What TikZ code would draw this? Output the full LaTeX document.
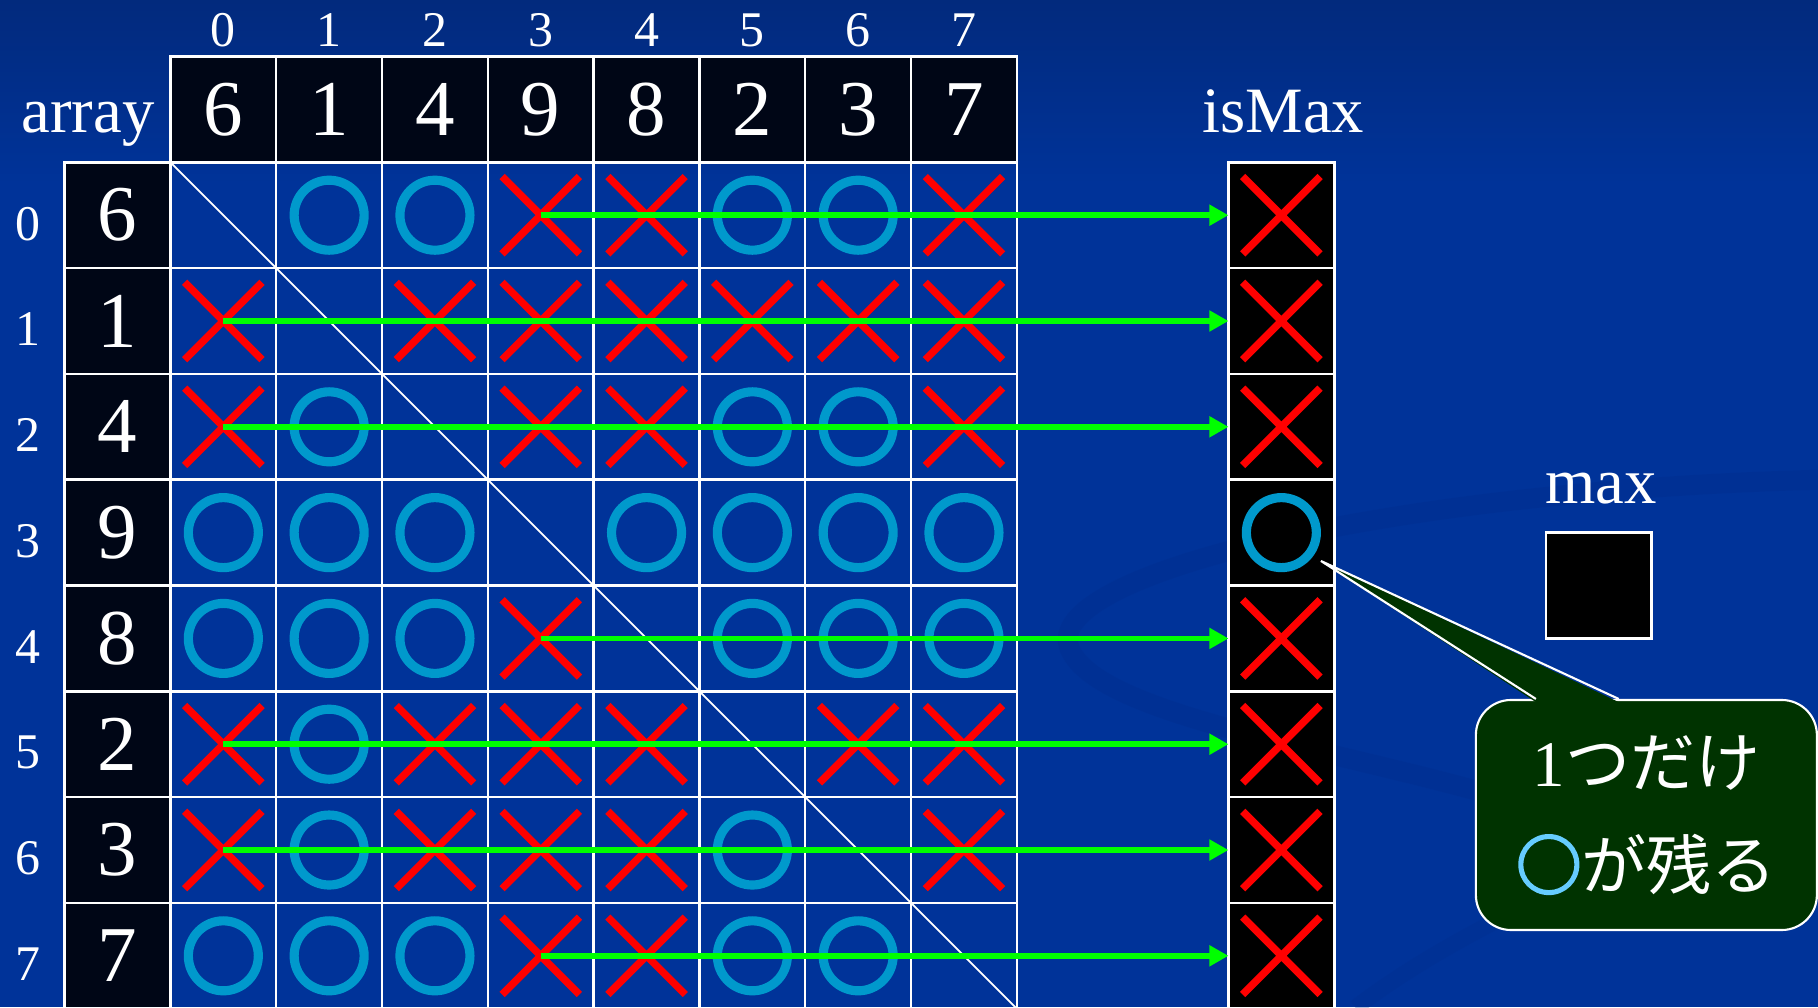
\documentclass[tikz,border=0pt]{standalone}
\usepackage{fontspec}
\setmainfont{Liberation Serif}
\newfontfamily\jpfont{Noto Sans CJK JP}
\newfontfamily\jpbold[FakeBold=4]{Noto Sans CJK JP}
\usepackage{tikz}
\usetikzlibrary{arrows.meta, positioning, calc, shapes.misc}
\definecolor{slideblue}{RGB}{0,51,153}
\definecolor{slidetop}{RGB}{2,42,125}
\definecolor{swoosh}{RGB}{0,44,138}
\definecolor{cellblack}{RGB}{0,6,22}
\definecolor{markred}{RGB}{255,0,0}
\definecolor{markblue}{RGB}{0,153,204}
\definecolor{arrowgreen}{RGB}{0,255,0}
\definecolor{notegreen}{RGB}{0,51,0}
\definecolor{lightblue}{RGB}{102,204,255}

\begin{document}
\begin{tikzpicture}[x=1.058cm, y=1.058cm,
  cell/.style={draw=white, line width=0.7pt, minimum size=1.058cm, inner sep=0pt, outer sep=0pt},
  num/.style={text=white, font=\fontsize{22.5}{27}\selectfont},
  idx/.style={text=white, font=\fontsize{14.2}{17}\selectfont},
  lbl/.style={text=white, font=\fontsize{18.4}{22}\selectfont, anchor=base},
  xmark/.style={cross out, draw=markred, line width=2.1pt, minimum size=0.70cm, inner sep=0pt},
  omark/.style={circle, draw=markblue, line width=2.6pt, minimum size=0.70cm, inner sep=0pt},
  okarrow/.style={arrowgreen, line width=1.55pt, -{Triangle[length=0.19cm, width=0.2cm]}},
  note/.style={draw=white, line width=0.6pt, fill=notegreen, rounded corners=0.35cm,
    minimum width=3.41cm, minimum height=2.30cm, align=center, text=white,
    font=\fontsize{18.5}{29.3}\selectfont}]
  \def\vals{{6,1,4,9,8,2,3,7}}

  % background
  \useasboundingbox (-1.611,-7.984) rectangle (15.572,1.534);
  \fill[slideblue] (-1.611,-7.984) rectangle (15.572,1.534);
  \shade[top color=slidetop, bottom color=slideblue] (-1.611,-0.2) rectangle (15.572,1.534);
  \draw[swoosh, line width=0.2cm, opacity=0.3] (15.6,-3.0) .. controls (11.5,-3.1) and (8.2,-3.9) .. (8.5,-4.6)
    .. controls (8.8,-5.3) and (11.5,-5.6) .. (13.2,-6.2);
  \draw[swoosh, line width=0.16cm, opacity=0.25] (15.6,-5.9) .. controls (14.5,-6.3) and (12.5,-7.0) .. (11.2,-7.99);

  % top array with index
  \foreach \v [count=\j from 0] in {6,1,4,9,8,2,3,7} {
    \node[cell, fill=cellblack, num] (a\j) at (\j+0.5,0.5) {\v};
    \node[idx] (ti\j) at (\j+0.5,1.25) {\j};
  }
  \node[lbl] (arraylbl) at (-0.78,0.277) {array};

  % left array with index
  \foreach \v [count=\i from 0] in {6,1,4,9,8,2,3,7} {
    \node[cell, fill=cellblack, num] (b\i) at (-0.5,-\i-0.5) {\v};
    \node[idx] (ri\i) at (-1.345,-\i-0.58) {\i};
  }

  % comparison table
  \foreach \i in {0,...,7} {
    \foreach \j in {0,...,7} {
      \node[cell] (c\i\j) at (\j+0.5,-\i-0.5) {};
    }
  }
  \draw[white, line width=0.5pt] (c00.north west) -- (c77.south east);
  \foreach \i in {0,...,7} {
    \foreach \j in {0,...,7} {
      \pgfmathtruncatemacro{\vi}{\vals[\i]}
      \pgfmathtruncatemacro{\vj}{\vals[\j]}
      \ifnum\i=\j\relax\else
        \ifnum\vi<\vj\relax
          \node[xmark] (k\i\j) at (c\i\j) {};
        \else
          \node[omark] (k\i\j) at (c\i\j) {};
        \fi
      \fi
    }
  }

  % isMax column
  \node[lbl] (ismaxlbl) at (10.52,0.277) {isMax};
  \foreach \i in {0,...,7} {
    \node[cell, fill=black] (m\i) at (10.5,-\i-0.5) {};
    \ifnum\i=3\relax
      \node[omark] (n\i) at (m\i) {};
    \else
      \node[xmark] (n\i) at (m\i) {};
    \fi
  }

  % arrows to isMax
  \foreach \i/\j in {0/3,1/0,2/0,4/3,5/0,6/0,7/3} {
    \draw[okarrow] (c\i\j.center) -- (m\i.west);
  }

  % max
  \node[cell, fill=black] (maxbox) at (13.5,-4) {};
  \node[lbl] (maxlbl) at (13.52,-3.223) {max};

  % callout
  \node[note] (note) at (13.95,-6.169) {1{\jpfont つだけ}\\{\jpbold\textcolor{lightblue}{○}}{\jpfont が残る}};
  \coordinate (tip) at ($(m3.center)+(0.374,-0.268)$);
  \fill[notegreen] ($(note.north west)+(0.577,-0.03)$) -- (tip) -- ($(note.north west)+(1.36,-0.03)$) -- cycle;
  \draw[white, line width=0.6pt] ($(note.north west)+(0.577,0)$) -- (tip) -- ($(note.north west)+(1.36,0)$);
\end{tikzpicture}
\end{document}
